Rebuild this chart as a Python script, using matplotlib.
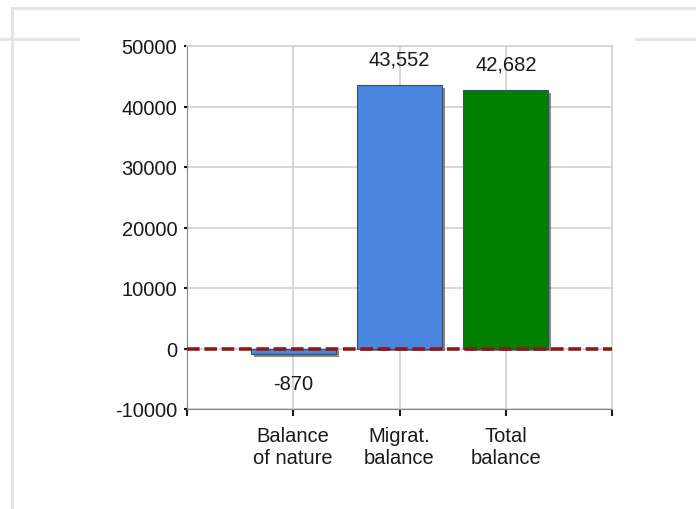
import matplotlib.pyplot as plt
import matplotlib.patheffects as pe
from matplotlib.lines import Line2D

# Data
categories = ['Balance\nof nature', 'Migrat.\nbalance', 'Total\nbalance']
values = [-870, 43552, 42682]
bar_colors = ['#4a86e0', '#4a86e0', '#008000']
y_ticks = [-10000, 0, 10000, 20000, 30000, 40000, 50000]

plt.rcParams.update({'font.family': ['Liberation Sans', 'DejaVu Sans'], 'font.size': 14.5,
                     'axes.unicode_minus': False})

fig = plt.figure(figsize=(6.96, 5.10), dpi=100)

# page frame lines around the chart
frame_col = '#e2e2e2'
fig.add_artist(Line2D([12 / 696, 1], [1 - 9 / 510] * 2, color=frame_col, lw=2))
fig.add_artist(Line2D([12 / 696] * 2, [0, 1 - 9 / 510], color=frame_col, lw=2))
fig.add_artist(Line2D([0, 78 / 696], [1 - 40 / 510] * 2, color=frame_col, lw=2))
fig.add_artist(Line2D([636 / 696, 1], [1 - 40 / 510] * 2, color=frame_col, lw=2))

ax = fig.add_axes([187 / 696, 100 / 510, 425 / 696, 363 / 510])

x = [1, 2, 3]
bars = ax.bar(x, values, width=0.8, color=bar_colors, edgecolor='#3d4d66', linewidth=0.8, zorder=3)
for b in bars:
    b.set_path_effects([pe.SimplePatchShadow(offset=(2, -2), shadow_rgbFace='#555555', alpha=0.7), pe.Normal()])

# zero reference line
ax.axhline(0, color='#8e1818', lw=2.6, ls=(0, (3.5, 1.3)), zorder=4)

# value labels
for xi, v in zip(x, values):
    if v >= 0:
        ax.annotate(f'{v:,}', (xi, v), xytext=(0, 17), textcoords='offset pixels',
                    ha='center', va='bottom', color='#1a1a1a')
    else:
        ax.annotate(f'{v:,}', (xi, v), xytext=(0, -20), textcoords='offset pixels',
                    ha='center', va='top', color='#1a1a1a')

ax.set_xlim(0, 4)
ax.set_ylim(-10000, 50000)
ax.set_yticks(y_ticks)
ax.set_xticks([0, 1, 2, 3, 4])
ax.set_xticklabels([''] + categories + [''], linespacing=1.2)

ax.grid(True, color='#d4d4d4', lw=1.3, zorder=0)
ax.set_axisbelow(True)
for side in ['top', 'right']:
    ax.spines[side].set_color('#d4d4d4')
    ax.spines[side].set_linewidth(1.3)
ax.spines['left'].set_color('#888888')
ax.spines['bottom'].set_color('#888888')
ax.tick_params(axis='y', length=2, width=1.5, pad=5, colors='#1a1a1a')
ax.tick_params(axis='x', length=5, width=1.5, pad=7, colors='#1a1a1a')

fig.savefig('out.png', dpi=100)
